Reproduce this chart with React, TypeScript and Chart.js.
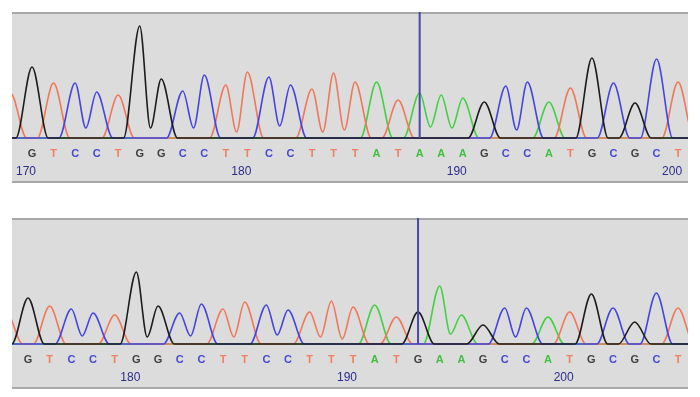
import React, { useEffect, useRef } from "react";
import { Chart, registerables } from "chart.js";

Chart.register(...registerables);

// ---- data (index -1 is the partial peak at the left edge) ----
const TOP_BASES = ["T", "G", "T", "C", "C", "T", "G", "G", "C", "C", "T", "T", "C", "C", "T", "T", "T", "A", "T", "A", "A", "A", "G", "C", "C", "A", "T", "G", "C", "G", "C", "T"];
const TOP_PEAKS = [45, 71, 55, 55, 46, 43, 112, 59, 47, 63, 53, 66, 61, 53, 49, 65, 56, 56, 38, 45, 43, 40, 36, 52, 56, 36, 50, 80, 55, 35, 79, 56];
// valley height between a peak and the next one when both are the same base
const TOP_DIPS = [null, null, null, 10, null, null, 10, null, 10, null, 6, null, 12, null, 6, 8, null, null, null, 11, 10, null, null, 8, null, null, null, null, null, null, null, null];
const TOP_START = 170; // position of index 0
const TOP_POSITION_LABELS = [170, 180, 190, 200];

const BOTTOM_BASES = ["T", "G", "T", "C", "C", "T", "G", "G", "C", "C", "T", "T", "C", "C", "T", "T", "T", "A", "T", "G", "A", "A", "G", "C", "C", "A", "T", "G", "C", "G", "C", "T"];
const BOTTOM_PEAKS = [32, 46, 38, 35, 31, 29, 72, 38, 31, 40, 35, 42, 39, 34, 32, 43, 37, 39, 27, 32, 58, 29, 19, 36, 36, 27, 32, 50, 36, 22, 51, 36];
const BOTTOM_DIPS = [null, null, null, 8, null, null, 7, null, 8, null, 7, null, 9, null, 7, 5, null, null, null, null, 10, null, null, 7, null, null, null, null, null, null, null, null];
const BOTTOM_START = 175;
const BOTTOM_POSITION_LABELS = [180, 190, 200];

const CURSOR_INDEX = 18;

// ---- styles ----
const CHANNELS = ["G", "C", "T", "A"];
const TRACE_COLORS: Record<string, string> = { G: "#1c1c1c", C: "#4444e0", T: "#f0785a", A: "#44d044" };
const LETTER_COLORS: Record<string, string> = { G: "#404040", C: "#4848d0", T: "#f08060", A: "#40c040" };
const NUMBER_COLOR = "#2c2c8c";
const PANEL_BG = "#dcdcdc";
const PANEL_EDGE = "#a8a8a8";
const CURSOR_COLOR = "#4848a8";
const HALF_WIDTH = 0.75;

function buildTrace(ch: string, bases: string[], peaks: number[], dips: (number | null)[], xMin: number, xMax: number) {
  const pts: { x: number; y: number }[] = [{ x: xMin - 2, y: 0 }];
  for (let k = 0; k < bases.length; k++) {
    if (bases[k] !== ch) continue;
    const x = k - 1;
    const prevSame = k > 0 && bases[k - 1] === ch;
    const nextSame = k < bases.length - 1 && bases[k + 1] === ch;
    if (!prevSame) pts.push({ x: x - HALF_WIDTH, y: 0 });
    pts.push({ x, y: peaks[k] });
    if (nextSame) pts.push({ x: x + 0.5, y: dips[k] ?? 0 });
    else pts.push({ x: x + HALF_WIDTH, y: 0 });
  }
  pts.push({ x: xMax + 2, y: 0 });
  return pts;
}

const panelPlugin = {
  id: "panel",
  beforeDraw(chart: any) {
    const { ctx, chartArea } = chart;
    const xn = chart.scales.xn;
    const top = chartArea.top;
    const bottom = xn.bottom;
    ctx.save();
    ctx.fillStyle = PANEL_BG;
    ctx.fillRect(chartArea.left, top - 1, chartArea.right - chartArea.left, bottom - top + 1);
    ctx.strokeStyle = PANEL_EDGE;
    ctx.lineWidth = 2;
    ctx.beginPath();
    ctx.moveTo(chartArea.left, top);
    ctx.lineTo(chartArea.right, top);
    ctx.moveTo(chartArea.left, bottom);
    ctx.lineTo(chartArea.right, bottom);
    ctx.stroke();
    ctx.restore();
  },
  afterDatasetsDraw(chart: any, _args: any, opts: any) {
    const { ctx, chartArea } = chart;
    const x = chart.scales.x.getPixelForValue(opts.cursor);
    const yb = chart.scales.y.getPixelForValue(0);
    ctx.save();
    ctx.strokeStyle = CURSOR_COLOR;
    ctx.lineWidth = 2;
    ctx.beginPath();
    ctx.moveTo(x, chartArea.top - 1);
    ctx.lineTo(x, yb);
    ctx.stroke();
    ctx.restore();
  },
};

type PanelProps = {
  bases: string[];
  peaks: number[];
  dips: (number | null)[];
  start: number;
  labels: number[];
  xMin: number;
  xMax: number;
  top: number;
};

function TracePanel({ bases, peaks, dips, start, labels, xMin, xMax, top }: PanelProps) {
  const ref = useRef<HTMLCanvasElement>(null);
  useEffect(() => {
    const canvas = ref.current!;
    const datasets = CHANNELS.map((ch) => ({
      label: ch,
      data: buildTrace(ch, bases, peaks, dips, xMin, xMax),
      borderColor: TRACE_COLORS[ch],
      borderWidth: 1.6,
      pointRadius: 0,
      cubicInterpolationMode: "monotone" as const,
      fill: false,
      xAxisID: "x",
      yAxisID: "y",
    }));
    const chart = new Chart(canvas, {
      type: "line",
      data: { datasets },
      options: {
        animation: false,
        responsive: false,
        events: [],
        layout: { padding: { left: 12, right: 12, top: 13, bottom: 13 } },
        plugins: {
          legend: { display: false },
          tooltip: { enabled: false },
          panel: { cursor: CURSOR_INDEX },
        } as any,
        scales: {
          x: {
            type: "linear",
            min: xMin,
            max: xMax,
            position: "bottom",
            weight: 0,
            grid: { display: false, drawTicks: false },
            border: { display: false },
            afterBuildTicks: (s: any) => {
              s.ticks = bases
                .map((_, k) => ({ value: k - 1 }))
                .filter((t) => t.value >= xMin && t.value <= xMax);
            },
            afterFit: (s: any) => {
              s.height = 21;
              s.paddingLeft = 0;
              s.paddingRight = 0;
            },
            ticks: {
              autoSkip: false,
              maxRotation: 0,
              padding: 8,
              font: { family: "Liberation Sans", size: 11, weight: "bold" },
              color: (c: any) => LETTER_COLORS[bases[Math.round(c.tick.value) + 1]],
              callback: (v: any) => bases[Math.round(Number(v)) + 1],
            },
          },
          xn: {
            type: "linear",
            min: xMin,
            max: xMax,
            position: "bottom",
            weight: 1,
            grid: { display: false, drawTicks: false },
            border: { display: false },
            afterBuildTicks: (s: any) => {
              s.ticks = labels.map((p) => ({ value: p - start }));
            },
            afterFit: (s: any) => {
              s.height = 22;
              s.paddingLeft = 0;
              s.paddingRight = 0;
            },
            ticks: {
              autoSkip: false,
              maxRotation: 0,
              padding: 4,
              labelOffset: -6,
              font: { family: "Liberation Sans", size: 12 },
              color: NUMBER_COLOR,
              callback: (v: any) => String(Math.round(Number(v)) + start),
            },
          },
          y: { display: false, min: -1, max: 125 },
        },
      } as any,
      plugins: [panelPlugin],
    });
    return () => chart.destroy();
  }, []);
  return (
    <canvas
      ref={ref}
      width={700}
      height={195}
      style={{ position: "absolute", left: 0, top, width: 700, height: 195, display: "block" }}
    />
  );
}

export default function App() {
  return (
    <div style={{ position: "absolute", left: 0, top: 0, width: 700, height: 397, background: "#ffffff" }}>
      <TracePanel bases={TOP_BASES} peaks={TOP_PEAKS} dips={TOP_DIPS} start={TOP_START} labels={TOP_POSITION_LABELS} xMin={-0.93} xMax={30.46} top={0} />
      <TracePanel bases={BOTTOM_BASES} peaks={BOTTOM_PEAKS} dips={BOTTOM_DIPS} start={BOTTOM_START} labels={BOTTOM_POSITION_LABELS} xMin={-0.74} xMax={30.46} top={206} />
    </div>
  );
}
